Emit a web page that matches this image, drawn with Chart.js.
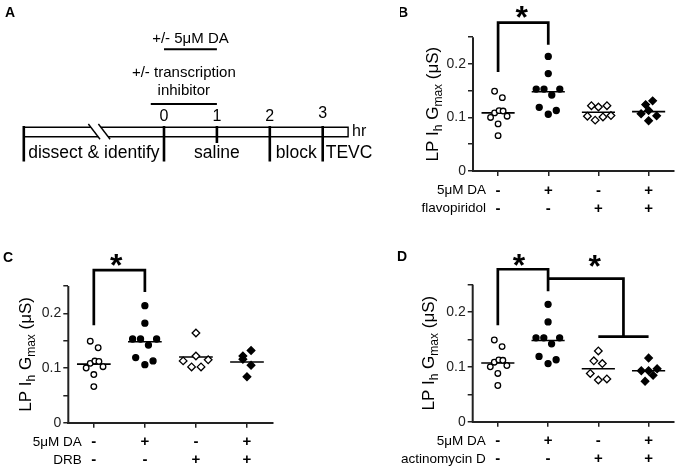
<!DOCTYPE html>
<html><head><meta charset="utf-8">
<script src="https://cdn.jsdelivr.net/npm/chart.js@4.4.1/dist/chart.umd.min.js"></script>
<style>
html,body{margin:0;padding:0;background:#fff;overflow:hidden;}
#wrap{position:relative;width:679px;height:469px;background:#fff;}
canvas{position:absolute;display:block;}
</style></head><body>
<div id="wrap">
<canvas id="panelA" width="400" height="230" style="left:0;top:0"></canvas>
<canvas id="panelB" width="279" height="230" style="left:400px;top:0"></canvas>
<canvas id="panelC" width="340" height="239" style="left:0;top:230px"></canvas>
<canvas id="panelD" width="339" height="239" style="left:340px;top:230px"></canvas>
</div>
<script>
const FF = '"Liberation Sans", Arial, Helvetica, sans-serif';
Chart.defaults.font.family = FF;
Chart.defaults.color = '#000';

// ---------- Panel A (protocol timeline, x in hours) ----------
const hourTicks = [0, 1, 2, 3];
const hourLabels = ['0', '1', '2', '3'];
const phaseNames = ['dissect & identify', 'saline', 'block', 'TEVC'];
const phaseBounds = [-2.65, 0, 2, 3];
const timelineEnd = 3.48;
const shortTickHours = [1];
const treatNames = [['+/- 5\u03bcM DA'], ['+/- transcription', 'inhibitor']];
const treatStart = [0, -0.25];
const treatEnd = [1, 1];
const breakHours = [-1.43, -1.24];

// ---------- Panels B-D (LP Ih Gmax, µS) ----------
const CAT = [1, 2, 3, 4];
const daRow = ['-', '+', '-', '+'];
const inhibRow = ['-', '-', '+', '+'];
const inhibitorNames = ['flavopiridol', 'DRB', 'actinomycin D'];
const yTickValues = [0, 0.05, 0.1, 0.15, 0.2, 0.25];
const yTickLabels = ['0', '', '0.1', '', '0.2', ''];

const ctrlOffset = [-0.07, 0.085, -0.07, 0.02, 0.1, -0.15, 0.18, 0, 0];
const ctrlValues = [0.149, 0.137, 0.1085, 0.1127, 0.112, 0.100, 0.1024, 0.088, 0.066];
const daOffset = [0, 0, -0.24, -0.085, 0.23, 0.07, -0.18, 0.16, 0];
const daValues = [0.214, 0.182, 0.153, 0.153, 0.153, 0.142, 0.119, 0.113, 0.106];

const flavoOffset = [-0.14, 0, 0.17, -0.22, -0.065, 0.09, 0.25];
const flavoValues = [0.122, 0.1195, 0.122, 0.1024, 0.095, 0.101, 0.1036];
const daFlavoOffset = [0.08, -0.06, -0.15, 0, 0.16, 0];
const daFlavoValues = [0.131, 0.124, 0.107, 0.113, 0.103, 0.094];

const drbOffset = [0, -0.25, -0.085, 0, 0.1, 0.24];
const drbValues = [0.164, 0.113, 0.102, 0.122, 0.102, 0.115];
const daDrbOffset = [-0.08, -0.08, 0.08, 0.08, 0];
const daDrbValues = [0.122, 0.116, 0.132, 0.105, 0.084];

const actOffset = [0, -0.09, 0.08, -0.16, 0, 0.17];
const actValues = [0.129, 0.111, 0.106, 0.088, 0.076, 0.078];
const daActOffset = [0, -0.145, 0, 0.17, 0.09, -0.07];
const daActValues = [0.116, 0.093, 0.093, 0.0965, 0.0845, 0.0736];

const meansB = [0.1085, 0.148, 0.1097, 0.111];
const meansC = [0.107, 0.148, 0.120, 0.111];
const meansD = [0.107, 0.148, 0.0965, 0.093];

const bracketB = [[1, 0.185], [1, 0.277], [2, 0.277], [2, 0.236]];
const bracketC = [[1, 0.178], [1, 0.279], [2, 0.279], [2, 0.239]];
const bracketD1 = [[1, 0.176], [1, 0.278], [2, 0.278], [2, 0.238]];
const bracketD2 = [[2, 0.261], [3.5, 0.261], [3.5, 0.155]];
const bracketD3 = [[3, 0.155], [4, 0.155]];
const starsB = [[1.47, 0.294]];
const starsC = [[1.44, 0.293]];
const starsD = [[1.42, 0.292], [2.93, 0.289]];

// ================= Panel A =================
(function () {
  const LV = {daText: 38.5, daBar: 49.3, inhText1: 73, inhText2: 91, inhBar: 104,
    hourText: 116.5, bandTop: 127.3, bandBot: 136.7, tickTop: 126, shortBot: 143,
    tickBot: 161.5, phaseText: 153, slashTop: 124, slashBot: 139.3};
  const slashDx = 0.221;
  const ds = [];
  function seg(pts, w) {
    ds.push({data: pts.map(p => ({x: p[0], y: p[1]})), showLine: true, borderColor: '#000',
      borderWidth: w, pointRadius: 0, borderCapStyle: 'butt', clip: false});
  }
  const tS = phaseBounds[0];
  const gapTop = breakHours.map(b => b + slashDx * (LV.bandTop - LV.slashTop) / (LV.slashBot - LV.slashTop));
  const gapBot = breakHours.map(b => b + slashDx * (LV.bandBot - LV.slashTop) / (LV.slashBot - LV.slashTop));
  seg([[tS, LV.bandTop], [gapTop[0], LV.bandTop]], 1.4);
  seg([[gapTop[1], LV.bandTop], [timelineEnd, LV.bandTop], [timelineEnd, LV.bandBot], [gapBot[1], LV.bandBot]], 1.4);
  seg([[tS, LV.bandBot], [gapBot[0], LV.bandBot]], 1.4);
  breakHours.forEach(b => seg([[b, LV.slashTop], [b + slashDx, LV.slashBot]], 1.4));
  phaseBounds.forEach(h => seg([[h, LV.tickTop], [h, LV.tickBot]], 2.6));
  shortTickHours.forEach(h => seg([[h, LV.tickTop], [h, LV.shortBot]], 2.6));
  seg([[treatStart[0], LV.daBar], [treatEnd[0], LV.daBar]], 2);
  seg([[treatStart[1], LV.inhBar], [treatEnd[1], LV.inhBar]], 2);

  const textPlugin = {
    id: 'aText',
    afterDraw(chart) {
      const {ctx, scales: {x, y}} = chart;
      ctx.save();
      ctx.fillStyle = '#000';
      ctx.textBaseline = 'middle';
      ctx.textAlign = 'center';
      ctx.font = '16px ' + FF;
      hourTicks.forEach((h, i) => ctx.fillText(hourLabels[i], x.getPixelForValue(h), y.getPixelForValue(LV.hourText - (i === 3 ? 3 : 0))));
      ctx.textAlign = 'left';
      ctx.fillText('hr', x.getPixelForValue(timelineEnd) + 4, y.getPixelForValue(132));
      ctx.font = '17.5px ' + FF;
      phaseNames.forEach((n, i) => {
        const a = phaseBounds[i];
        const b = i + 1 < phaseBounds.length ? phaseBounds[i + 1] : null;
        if (b === null) {
          ctx.textAlign = 'left';
          ctx.fillText(n, x.getPixelForValue(a) + 3, y.getPixelForValue(LV.phaseText));
        } else {
          ctx.textAlign = 'center';
          ctx.fillText(n, (x.getPixelForValue(a) + x.getPixelForValue(b)) / 2, y.getPixelForValue(LV.phaseText));
        }
      });
      ctx.font = '15px ' + FF;
      ctx.textAlign = 'center';
      const cx0 = (x.getPixelForValue(treatStart[0]) + x.getPixelForValue(treatEnd[0])) / 2;
      ctx.fillText(treatNames[0][0], cx0, y.getPixelForValue(LV.daText));
      const cx1 = (x.getPixelForValue(treatStart[1]) + x.getPixelForValue(treatEnd[1])) / 2;
      ctx.fillText(treatNames[1][0], cx1, y.getPixelForValue(LV.inhText1));
      ctx.fillText(treatNames[1][1], cx1, y.getPixelForValue(LV.inhText2));
      ctx.font = 'bold 14px ' + FF;
      ctx.fillText('A', 10, 13);
      ctx.restore();
    }
  };

  new Chart(document.getElementById('panelA'), {
    type: 'scatter',
    data: {datasets: ds},
    options: {
      responsive: false, animation: false, events: [],
      layout: {padding: 0},
      plugins: {legend: {display: false}, tooltip: {enabled: false}},
      scales: {
        x: {type: 'linear', display: false, min: -3.1, max: 4.461},
        y: {type: 'linear', display: false, min: 0, max: 230, reverse: true}
      }
    },
    plugins: [textPlugin]
  });
})();

// ================= Panels B, C, D =================
function drawYTitle(ctx, cx, cy) {
  const parts = [['LP I', 17, 0], ['h', 12, 4], [' G', 17, 0], ['max', 12, 4], [' (\u03bcS)', 17, 0]];
  ctx.save();
  ctx.translate(cx, cy);
  ctx.rotate(-Math.PI / 2);
  let total = 0;
  const widths = parts.map(p => { ctx.font = p[1] + 'px ' + FF; const w = ctx.measureText(p[0]).width; total += w; return w; });
  let px = -total / 2;
  ctx.textBaseline = 'alphabetic';
  ctx.textAlign = 'left';
  ctx.fillStyle = '#000';
  parts.forEach((p, i) => { ctx.font = p[1] + 'px ' + FF; ctx.fillText(p[0], px, 6 + p[2]); px += widths[i]; });
  ctx.restore();
}

function makePanel(cfg) {
  const styles = [
    {ps: 'circle', r: 2.8, bg: '#fff'},
    {ps: 'circle', r: 3.0, bg: '#000'},
    {ps: 'rectRot', r: 3.8, bg: '#fff'},
    {ps: 'rectRot', r: 3.8, bg: '#000'}
  ];
  const ds = [];
  cfg.groups.forEach((g, i) => {
    ds.push({
      data: g[1].map((v, j) => ({x: CAT[i] + g[0][j], y: v})),
      pointStyle: styles[i].ps, pointRadius: styles[i].r, pointBackgroundColor: styles[i].bg,
      pointBorderColor: '#000', pointBorderWidth: 1.3, showLine: false
    });
  });
  cfg.means.forEach((m, i) => ds.push({
    data: [{x: CAT[i] - 0.33, y: m}, {x: CAT[i] + 0.33, y: m}], showLine: true,
    borderColor: '#000', borderWidth: 1.6, pointRadius: 0
  }));
  cfg.brackets.forEach(b => ds.push({
    data: b.map(p => ({x: p[0], y: p[1]})), showLine: true, borderColor: '#000',
    borderWidth: 2.7, pointRadius: 0, clip: false, borderJoinStyle: 'miter', borderCapStyle: 'butt'
  }));

  const deco = {
    id: 'deco' + cfg.letter,
    afterDraw(chart) {
      const {ctx, chartArea, scales: {x, y}} = chart;
      ctx.save();
      ctx.strokeStyle = '#222';
      ctx.lineWidth = 2;
      ctx.beginPath();
      ctx.moveTo(chartArea.left, y.getPixelForValue(0) + 1);
      ctx.lineTo(chartArea.left, y.getPixelForValue(yTickValues[yTickValues.length - 1]));
      ctx.stroke();
      drawYTitle(ctx, chartArea.left + cfg.titleDx, (y.getPixelForValue(0) + y.getPixelForValue(0.25)) / 2);
      ctx.fillStyle = '#000';
      ctx.font = '13.5px ' + FF;
      ctx.textAlign = 'right';
      ctx.textBaseline = 'middle';
      const lx = x.getPixelForValue(CAT[0]) - 12;
      const by = y.getPixelForValue(0);
      ctx.fillText('5\u03bcM DA', lx, by + 19.5);
      ctx.fillText(cfg.inhibitor, lx, by + 37.5);
      ctx.font = 'bold 32px ' + FF;
      ctx.textAlign = 'center';
      ctx.textBaseline = 'alphabetic';
      cfg.stars.forEach(s => ctx.fillText('*', x.getPixelForValue(s[0]), y.getPixelForValue(s[1]) + 14));
      ctx.font = 'bold 14px ' + FF;
      ctx.textBaseline = 'middle';
      ctx.fillText(cfg.letter, cfg.letterPos[0], cfg.letterPos[1]);
      ctx.restore();
    }
  };

  new Chart(document.getElementById(cfg.id), {
    type: 'scatter',
    data: {datasets: ds},
    options: {
      responsive: false, animation: false, events: [],
      layout: {padding: cfg.padding},
      plugins: {legend: {display: false}, tooltip: {enabled: false}},
      scales: {
        x: {
          type: 'linear', min: 0.5, max: 4.5,
          afterBuildTicks: s => { s.ticks = CAT.map(v => ({value: v})); },
          afterFit: s => { s.height = cfg.xh; },
          ticks: {
            callback: (v, i) => [daRow[i], inhibRow[i]],
            color: '#000', autoSkip: false, maxRotation: 0, minRotation: 0, padding: 5.5,
            font: {family: FF, size: 15, weight: 'bold', lineHeight: 18 / 15}
          },
          grid: {display: true, drawOnChartArea: false, drawTicks: true, tickLength: 5, color: '#222', lineWidth: 1.5},
          border: {display: true, color: '#222', width: 2}
        },
        y: {
          type: 'linear', min: 0, max: 0.3,
          afterBuildTicks: s => { s.ticks = yTickValues.map(v => ({value: v})); },
          afterFit: s => { s.width = cfg.yw; },
          ticks: {callback: (v, i) => yTickLabels[i], color: '#222', padding: 2, font: {family: FF, size: 14}},
          grid: {display: true, drawOnChartArea: false, drawTicks: true, tickLength: 5, color: '#222', lineWidth: 1.5},
          border: {display: false}
        }
      }
    },
    plugins: [deco]
  });
}

makePanel({
  id: 'panelB', letter: 'B', letterPos: [3, 13], inhibitor: inhibitorNames[0],
  groups: [[ctrlOffset, ctrlValues], [daOffset, daValues], [flavoOffset, flavoValues], [daFlavoOffset, daFlavoValues]],
  means: meansB, brackets: [bracketB], stars: starsB,
  padding: {left: 0, right: 2, top: 6, bottom: 0}, yw: 73, xh: 59, titleDx: -41
});
makePanel({
  id: 'panelC', letter: 'C', letterPos: [8, 28], inhibitor: inhibitorNames[1],
  groups: [[ctrlOffset, ctrlValues], [daOffset, daValues], [drbOffset, drbValues], [daDrbOffset, daDrbValues]],
  means: meansC, brackets: [bracketC], stars: starsC,
  padding: {left: 0, right: 67.5, top: 28.6, bottom: 0}, yw: 68.3, xh: 46.3, titleDx: -43
});
makePanel({
  id: 'panelD', letter: 'D', letterPos: [62, 27], inhibitor: inhibitorNames[2],
  groups: [[ctrlOffset, ctrlValues], [daOffset, daValues], [actOffset, actValues], [daActOffset, daActValues]],
  means: meansD, brackets: [bracketD1, bracketD2, bracketD3], stars: starsD,
  padding: {left: 0, right: 3.5, top: 27.2, bottom: 0}, yw: 132.7, xh: 47.3, titleDx: -45
});
</script>
</body></html>
